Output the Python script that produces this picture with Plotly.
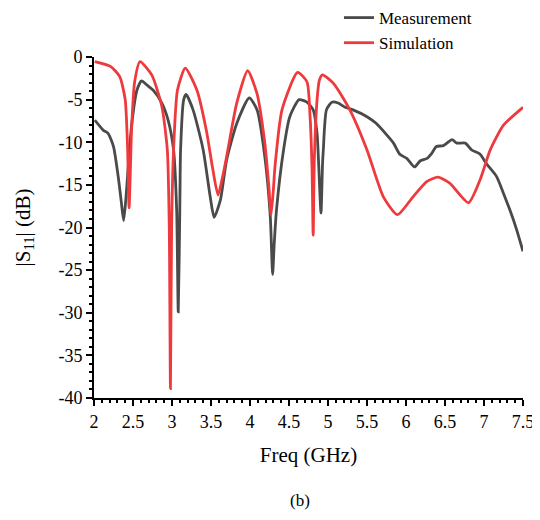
import plotly.graph_objects as go

meas_freq = [2.01, 2.12, 2.18, 2.25, 2.31, 2.35, 2.38, 2.41, 2.43, 2.48, 2.55, 2.61, 2.68, 2.76, 2.87, 2.95, 3.02, 3.06, 3.08, 3.10, 3.11, 3.15, 3.18, 3.27, 3.40, 3.49, 3.54, 3.62, 3.70, 3.83, 3.99, 4.09, 4.19, 4.26, 4.29, 4.31, 4.34, 4.43, 4.51, 4.63, 4.73, 4.81, 4.86, 4.88, 4.91, 4.93, 4.94, 4.98, 5.05, 5.13, 5.22, 5.32, 5.50, 5.62, 5.75, 5.84, 5.92, 6.01, 6.11, 6.18, 6.27, 6.33, 6.39, 6.48, 6.59, 6.65, 6.76, 6.84, 6.95, 7.03, 7.16, 7.25, 7.33, 7.42, 7.50]
meas_s11 = [-7.4, -8.6, -8.95, -10.5, -14.0, -17.0, -19.2, -16.5, -14.0, -8.2, -3.9, -2.8, -3.3, -3.9, -5.4, -7.4, -10.9, -18.0, -29.9, -18.0, -10.9, -5.0, -4.4, -6.2, -10.9, -16.4, -18.8, -16.8, -12.1, -7.8, -4.8, -6.2, -11.7, -18.7, -25.5, -22.0, -17.9, -10.9, -7.0, -5.0, -5.3, -6.2, -9.0, -12.5, -18.3, -12.5, -10.9, -6.2, -5.3, -5.4, -5.9, -6.2, -7.0, -7.8, -9.1, -10.1, -11.4, -11.9, -12.9, -12.2, -11.9, -11.3, -10.5, -10.4, -9.7, -10.1, -10.1, -10.9, -11.4, -12.5, -14.0, -16.0, -17.9, -20.3, -22.8]

sim_freq = [2.01, 2.21, 2.33, 2.40, 2.43, 2.45, 2.47, 2.48, 2.52, 2.59, 2.74, 2.87, 2.94, 2.965, 2.98, 2.995, 3.02, 3.07, 3.17, 3.32, 3.44, 3.52, 3.59, 3.65, 3.70, 3.83, 3.97, 4.09, 4.19, 4.24, 4.27, 4.30, 4.32, 4.41, 4.61, 4.73, 4.77, 4.795, 4.81, 4.825, 4.86, 4.89, 4.93, 5.07, 5.28, 5.50, 5.71, 5.89, 6.09, 6.27, 6.41, 6.56, 6.80, 6.95, 7.08, 7.25, 7.50]
sim_s11 = [-0.55, -1.1, -2.3, -5.0, -10.5, -17.7, -12.0, -8.9, -3.0, -0.55, -2.1, -5.8, -10.9, -20.0, -38.9, -20.0, -10.9, -3.9, -1.3, -3.9, -8.6, -13.0, -16.2, -14.0, -11.7, -5.4, -1.6, -4.3, -10.1, -15.0, -18.5, -15.5, -12.9, -6.2, -1.8, -2.9, -7.0, -13.0, -20.9, -12.0, -5.0, -2.7, -2.1, -3.1, -6.2, -10.9, -16.4, -18.5, -16.4, -14.6, -14.1, -14.8, -17.1, -14.4, -10.9, -8.0, -5.9]

x_ticks = [2, 2.5, 3, 3.5, 4, 4.5, 5, 5.5, 6, 6.5, 7, 7.5]
x_labels = ["2", "2.5", "3", "3.5", "4", "4.5", "5", "5.5", "6", "6.5", "7", "7.5"]
y_ticks = [0, -5, -10, -15, -20, -25, -30, -35, -40]
y_labels = ["0", "-5", "-10", "-15", "-20", "-25", "-30", "-35", "-40"]

FONT = "Liberation Serif"

fig = go.Figure()
fig.add_trace(go.Scatter(x=meas_freq, y=meas_s11, mode="lines", name="Measurement",
                         line=dict(color="#4a4a4a", width=2.8, shape="spline", smoothing=0.6)))
fig.add_trace(go.Scatter(x=sim_freq, y=sim_s11, mode="lines", name="Simulation",
                         line=dict(color="#ee3a3d", width=2.8, shape="spline", smoothing=0.6)))

axis_common = dict(showgrid=False, zeroline=False, showline=True, linecolor="black", linewidth=2,
                   ticks="outside", ticklen=6, tickwidth=2, tickcolor="black", automargin=False,
                   tickfont=dict(family=FONT, size=18, color="black"))

fig.update_layout(
    width=532, height=512,
    margin=dict(l=86, r=17, t=49, b=122, autoexpand=False),
    paper_bgcolor="white", plot_bgcolor="white",
    font=dict(family=FONT, color="black"),
    showlegend=True,
    legend=dict(x=0.571, y=1.167, xanchor="left", yanchor="top", bgcolor="rgba(0,0,0,0)",
                font=dict(family=FONT, size=17, color="black"), tracegroupgap=0),
    xaxis=dict(range=[2, 7.5], tickvals=x_ticks, ticktext=x_labels,
               minor=dict(dtick=0.1, ticks="outside", ticklen=3, tickwidth=1.5, tickcolor="black"),
               title=dict(text="Freq (GHz)", font=dict(family=FONT, size=21), standoff=17),
               **axis_common),
    yaxis=dict(range=[-40, 0], tickvals=y_ticks, ticktext=y_labels,
               minor=dict(dtick=1, ticks="outside", ticklen=3, tickwidth=1.5, tickcolor="black"),
               title=dict(text="|S<sub>11</sub>| (dB)", font=dict(family=FONT, size=21), standoff=22),
               **axis_common),
    annotations=[dict(text="(b)", x=0.48, y=-0.30, xref="paper", yref="paper", yanchor="middle",
                      showarrow=False, font=dict(family=FONT, size=17, color="black"))],
)

fig.write_html("out.html")
